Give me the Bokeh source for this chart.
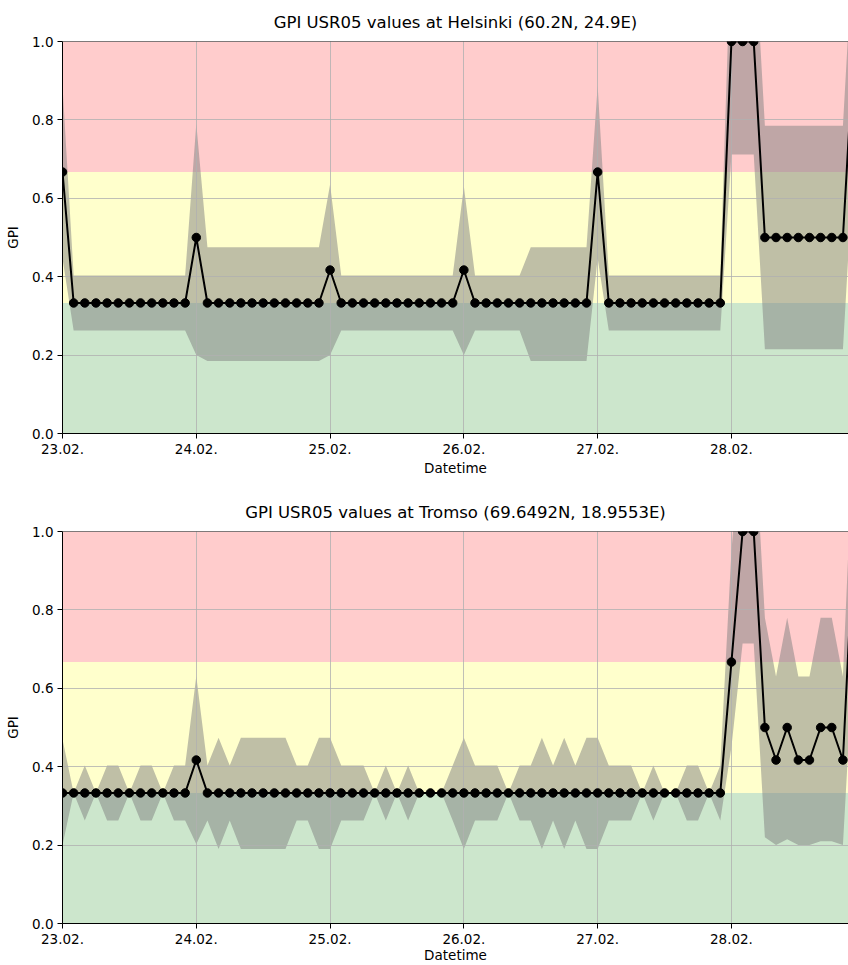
import pandas as pd
from bokeh.plotting import figure
from bokeh.layouts import column
from bokeh.models import (Range1d, Span, FixedTicker,
                          DatetimeTickFormatter, PrintfTickFormatter, ColumnDataSource)
from bokeh.embed import file_html
from bokeh.resources import INLINE

# ---------------- data ----------------
times = pd.date_range("2023-02-23 00:00", periods=72, freq="2h")
x_start = "2023-02-23 00:00"
x_end = "2023-02-28 21:00"
tick_dates = ["2023-02-23", "2023-02-24", "2023-02-25", "2023-02-26", "2023-02-27", "2023-02-28"]
y_ticks = [0.0, 0.2, 0.4, 0.6, 0.8, 1.0]

band_bottoms = [0.0, 0.333, 0.667]
band_tops = [0.333, 0.667, 1.0]
band_colors = ["#cce6cc", "#ffffcc", "#ffcccc"]

helsinki_title = "GPI USR05 values at Helsinki (60.2N, 24.9E)"
helsinki_gpi = [
    0.667, 0.333, 0.333, 0.333, 0.333, 0.333, 0.333, 0.333, 0.333, 0.333, 0.333, 0.333,
    0.5, 0.333, 0.333, 0.333, 0.333, 0.333, 0.333, 0.333, 0.333, 0.333, 0.333, 0.333,
    0.417, 0.333, 0.333, 0.333, 0.333, 0.333, 0.333, 0.333, 0.333, 0.333, 0.333, 0.333,
    0.417, 0.333, 0.333, 0.333, 0.333, 0.333, 0.333, 0.333, 0.333, 0.333, 0.333, 0.333,
    0.667, 0.333, 0.333, 0.333, 0.333, 0.333, 0.333, 0.333, 0.333, 0.333, 0.333, 0.333,
    1.0, 1.0, 1.0, 0.5, 0.5, 0.5, 0.5, 0.5, 0.5, 0.5, 0.5, 1.0,
]
helsinki_upper = [
    0.887, 0.403, 0.403, 0.403, 0.403, 0.403, 0.403, 0.403, 0.403, 0.403, 0.403, 0.403,
    0.79, 0.475, 0.475, 0.475, 0.475, 0.475, 0.475, 0.475, 0.475, 0.475, 0.475, 0.475,
    0.635, 0.403, 0.403, 0.403, 0.403, 0.403, 0.403, 0.403, 0.403, 0.403, 0.403, 0.403,
    0.63, 0.403, 0.403, 0.403, 0.403, 0.403, 0.475, 0.475, 0.475, 0.475, 0.475, 0.475,
    0.887, 0.403, 0.403, 0.403, 0.403, 0.403, 0.403, 0.403, 0.403, 0.403, 0.403, 0.403,
    1.29, 1.29, 1.29, 0.785, 0.785, 0.785, 0.785, 0.785, 0.785, 0.785, 0.785, 1.29,
]
helsinki_lower = [
    0.447, 0.263, 0.263, 0.263, 0.263, 0.263, 0.263, 0.263, 0.263, 0.263, 0.263, 0.263,
    0.2, 0.185, 0.185, 0.185, 0.185, 0.185, 0.185, 0.185, 0.185, 0.185, 0.185, 0.185,
    0.2, 0.263, 0.263, 0.263, 0.263, 0.263, 0.263, 0.263, 0.263, 0.263, 0.263, 0.263,
    0.2, 0.263, 0.263, 0.263, 0.263, 0.263, 0.185, 0.185, 0.185, 0.185, 0.185, 0.185,
    0.447, 0.263, 0.263, 0.263, 0.263, 0.263, 0.263, 0.263, 0.263, 0.263, 0.263, 0.263,
    0.712, 0.712, 0.712, 0.215, 0.215, 0.215, 0.215, 0.215, 0.215, 0.215, 0.215, 0.712,
]

tromso_title = "GPI USR05 values at Tromso (69.6492N, 18.9553E)"
tromso_gpi = [
    0.333, 0.333, 0.333, 0.333, 0.333, 0.333, 0.333, 0.333, 0.333, 0.333, 0.333, 0.333,
    0.417, 0.333, 0.333, 0.333, 0.333, 0.333, 0.333, 0.333, 0.333, 0.333, 0.333, 0.333,
    0.333, 0.333, 0.333, 0.333, 0.333, 0.333, 0.333, 0.333, 0.333, 0.333, 0.333, 0.333,
    0.333, 0.333, 0.333, 0.333, 0.333, 0.333, 0.333, 0.333, 0.333, 0.333, 0.333, 0.333,
    0.333, 0.333, 0.333, 0.333, 0.333, 0.333, 0.333, 0.333, 0.333, 0.333, 0.333, 0.333,
    0.667, 1.0, 1.0, 0.5, 0.417, 0.5, 0.417, 0.417, 0.5, 0.5, 0.417, 1.0,
]
tromso_upper = [
    0.47, 0.333, 0.403, 0.333, 0.403, 0.403, 0.333, 0.403, 0.403, 0.333, 0.403, 0.403,
    0.631, 0.403, 0.474, 0.403, 0.474, 0.474, 0.474, 0.474, 0.474, 0.403, 0.403, 0.474,
    0.474, 0.403, 0.403, 0.403, 0.333, 0.403, 0.333, 0.403, 0.333, 0.333, 0.333, 0.403,
    0.474, 0.403, 0.403, 0.403, 0.333, 0.403, 0.403, 0.474, 0.403, 0.474, 0.403, 0.474,
    0.474, 0.403, 0.403, 0.403, 0.333, 0.403, 0.333, 0.333, 0.403, 0.403, 0.333, 0.403,
    0.95, 1.29, 1.29, 0.78, 0.63, 0.78, 0.63, 0.63, 0.78, 0.78, 0.63, 1.29,
]
tromso_lower = [
    0.2, 0.333, 0.263, 0.333, 0.263, 0.263, 0.333, 0.263, 0.263, 0.333, 0.263, 0.263,
    0.203, 0.263, 0.19, 0.263, 0.19, 0.19, 0.19, 0.19, 0.19, 0.263, 0.263, 0.19,
    0.19, 0.263, 0.263, 0.263, 0.333, 0.263, 0.333, 0.263, 0.333, 0.333, 0.333, 0.263,
    0.19, 0.263, 0.263, 0.263, 0.333, 0.263, 0.263, 0.19, 0.263, 0.19, 0.263, 0.19,
    0.19, 0.263, 0.263, 0.263, 0.333, 0.263, 0.333, 0.333, 0.263, 0.263, 0.333, 0.263,
    0.45, 0.714, 0.714, 0.22, 0.2, 0.215, 0.2, 0.2, 0.21, 0.21, 0.2, 0.714,
]

FONT = "DejaVu Sans"


def make_plot(title, gpi, upper, lower, height, top, bottom, xlabel_standoff):
    start, end = pd.Timestamp(x_start), pd.Timestamp(x_end)
    p = figure(width=848, height=height, x_axis_type="datetime",
               x_range=Range1d(start, end),
               y_range=Range1d(0, 1), output_backend="svg", toolbar_location=None,
               min_border_left=62, min_border_right=0,
               min_border_top=top, min_border_bottom=bottom, title=title)
    p.outline_line_color = None
    p.background_fill_color = "white"
    p.border_fill_color = "white"

    p.title.text_font = FONT
    p.title.text_font_size = "16.5px"
    p.title.text_font_style = "normal"
    p.title.text_color = "black"
    p.title.align = "center"
    p.title.padding = 5

    bands = ColumnDataSource(dict(left=[start] * len(band_bottoms), right=[end] * len(band_bottoms),
                                  bottom=band_bottoms, top=band_tops, color=band_colors))
    p.quad(left="left", right="right", bottom="bottom", top="top", fill_color="color",
           line_color=None, source=bands, level="image")

    src = ColumnDataSource(dict(x=times, y=gpi, up=upper, lo=lower))
    p.varea(x="x", y1="lo", y2="up", source=src, fill_color="gray", fill_alpha=0.5,
            level="image")
    p.line("x", "y", source=src, line_color="black", line_width=2)
    p.scatter("x", "y", source=src, size=8.5, fill_color="black", line_color="black")

    p.add_layout(Span(location=1.0, dimension="width", line_color="black", line_width=1))

    tick_ms = [pd.Timestamp(d).value // 10**6 for d in tick_dates]
    p.xaxis.ticker = FixedTicker(ticks=tick_ms)
    fmt = "%d.%m."
    p.xaxis.formatter = DatetimeTickFormatter(
        microseconds=fmt, milliseconds=fmt, seconds=fmt, minsec=fmt, minutes=fmt,
        hourmin=fmt, hours=fmt, days=fmt, months=fmt, years=fmt)
    p.yaxis.ticker = FixedTicker(ticks=y_ticks)
    p.yaxis.formatter = PrintfTickFormatter(format="%.1f")

    p.xaxis.axis_label = "Datetime"
    p.yaxis.axis_label = "GPI"
    for ax in (p.xaxis, p.yaxis):
        ax.axis_line_color = "black"
        ax.axis_line_width = 1
        ax.major_tick_line_color = "black"
        ax.major_tick_out = 5
        ax.major_tick_in = 0
        ax.minor_tick_line_color = None
        ax.major_label_text_font = FONT
        ax.major_label_text_font_size = "13.5px"
        ax.major_label_text_color = "black"
        ax.axis_label_text_font = FONT
        ax.axis_label_text_font_size = "13.5px"
        ax.axis_label_text_font_style = "normal"
        ax.axis_label_text_color = "black"
    p.xaxis.major_label_standoff = 5
    p.xaxis.axis_label_standoff = xlabel_standoff
    p.yaxis.major_label_standoff = 4
    p.yaxis.axis_label_standoff = 8

    p.grid.grid_line_color = "#b0b0b0"
    p.grid.grid_line_width = 0.8
    return p


p1 = make_plot(helsinki_title, helsinki_gpi, helsinki_upper, helsinki_lower, 486, 40, 53, 3)
p2 = make_plot(tromso_title, tromso_gpi, tromso_upper, tromso_lower, 479, 45, 42, 0)

layout = column(p1, p2, spacing=0)
open("out.html", "w").write(file_html(layout, INLINE))
